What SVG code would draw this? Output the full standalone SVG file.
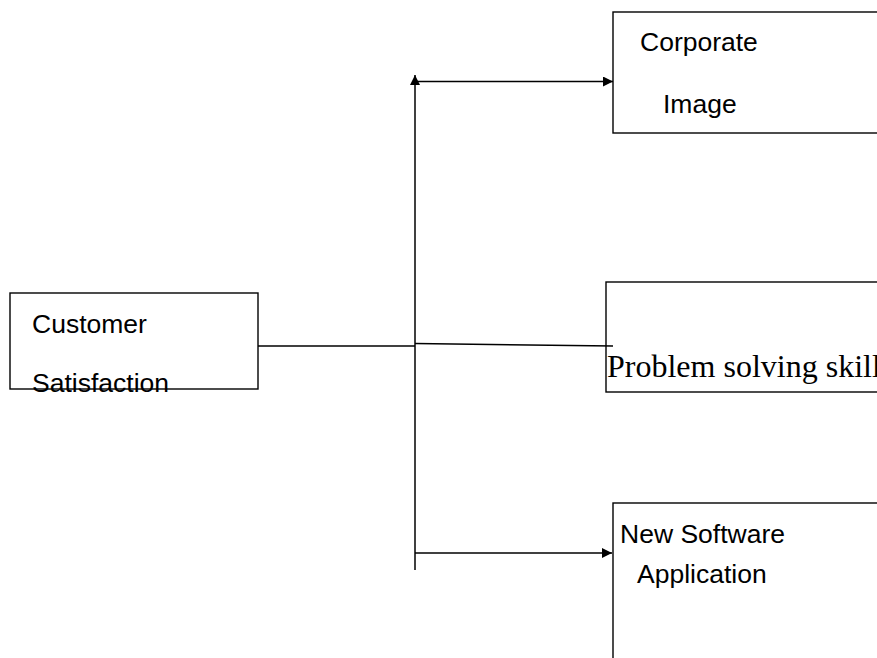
<svg xmlns="http://www.w3.org/2000/svg" width="877" height="658" viewBox="0 0 877 658">
<style>
.box{fill:#fff;stroke:#000;stroke-width:1.4}
.ln{fill:none;stroke:#000;stroke-width:1.5}
.t{font-family:"Liberation Sans",Arial,sans-serif;font-size:26.5px;fill:#000}
.tr{font-family:"Liberation Serif","Times New Roman",serif;font-size:32px;fill:#000}
</style>
<defs>
<marker id="ah" viewBox="0 0 10 10" refX="10" refY="5" markerWidth="10" markerHeight="10" markerUnits="userSpaceOnUse" orient="auto">
<path d="M0,0 L10,5 L0,10 Z" fill="#000"/>
</marker>
</defs>
<rect width="877" height="658" fill="#fff"/>
<g id="customer">
<rect class="box" x="10" y="293" width="248" height="96"/>
<text class="t" x="32" y="333">Customer</text>
<text class="t" x="32" y="392">Satisfaction</text>
</g>
<g id="corporate">
<rect class="box" x="613" y="12" width="280" height="121"/>
<text class="t" x="640" y="51">Corporate</text>
<text class="t" x="663" y="113">Image</text>
</g>
<g id="problem">
<rect class="box" x="606" y="282" width="290" height="110"/>
<text class="tr" x="607" y="377">Problem solving skill</text>
</g>
<g id="software">
<rect class="box" x="613" y="503" width="280" height="170"/>
<text class="t" x="620" y="543">New Software</text>
<text class="t" x="637" y="583">Application</text>
</g>
<g id="connectors">
<line class="ln" x1="258" y1="346" x2="415" y2="346"/>
<line class="ln" x1="415" y1="570" x2="415" y2="75" marker-end="url(#ah)"/>
<line class="ln" x1="415" y1="343.5" x2="613" y2="346"/>
<line class="ln" x1="415" y1="81.5" x2="613" y2="81.5" marker-end="url(#ah)"/>
<line class="ln" x1="415" y1="553" x2="612" y2="553" marker-end="url(#ah)"/>
</g>
</svg>
